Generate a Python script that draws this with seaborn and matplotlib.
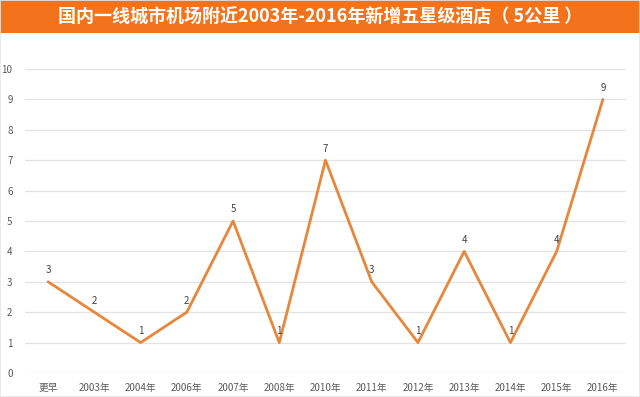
import pandas as pd
import matplotlib
matplotlib.use('Agg')
import matplotlib.pyplot as plt
import seaborn as sns
from matplotlib.patches import Rectangle

# 数据
years = ['更早', '2003年', '2004年', '2006年', '2007年', '2008年', '2010年',
         '2011年', '2012年', '2013年', '2014年', '2015年', '2016年']
hotels = [3, 2, 1, 2, 5, 1, 7, 3, 1, 4, 1, 4, 9]
title = '国内一线城市机场附近2003年-2016年新增五星级酒店（ 5公里 ）'

df = pd.DataFrame({'year': years, 'count': hotels})

sns.set_style('white')
plt.rcParams['font.family'] = ['Noto Sans CJK SC', 'DejaVu Sans']

W, H = 640, 397
fig = plt.figure(figsize=(W / 100, H / 100), dpi=100)
fig.patch.set_facecolor('white')

# 顶部橙色标题栏
fig.patches.append(Rectangle((0, 1 - 33 / H), 1, 33 / H, transform=fig.transFigure,
                             facecolor='#F2731C', edgecolor='none', zorder=0))
fig.text(0.5, 1 - 17 / H, title, color='white', fontsize=13, fontweight='bold',
         ha='center', va='center')

ax = fig.add_axes([25 / W, 1 - 373 / H, 601 / W, 304 / H])
sns.lineplot(data=df, x='year', y='count', sort=False, color='#E8873B',
             linewidth=2, ax=ax)

ax.set_ylim(0, 10)
ax.set_xlim(-0.5, len(years) - 0.5)
ax.set_yticks(range(0, 11))
ax.grid(axis='y', color='#E3E3E3', linewidth=0.9)
ax.set_axisbelow(True)
for s in ax.spines.values():
    s.set_visible(False)
ax.set_xlabel('')
ax.set_ylabel('')
ax.tick_params(axis='y', labelsize=7, labelcolor='#595959', length=0, pad=9)
ax.tick_params(axis='x', labelsize=7, labelcolor='#595959', length=0, pad=7)

# 数据标签
for i, v in enumerate(hotels):
    ax.text(i, v + 0.22, str(v), ha='center', va='bottom', fontsize=7, color='#404040')

# 外边框
fig.patches.append(Rectangle((0, 0), 1, 1, transform=fig.transFigure,
                             facecolor='none', edgecolor='#E6E6E6', linewidth=1.2))

fig.savefig('out.png', dpi=100)
